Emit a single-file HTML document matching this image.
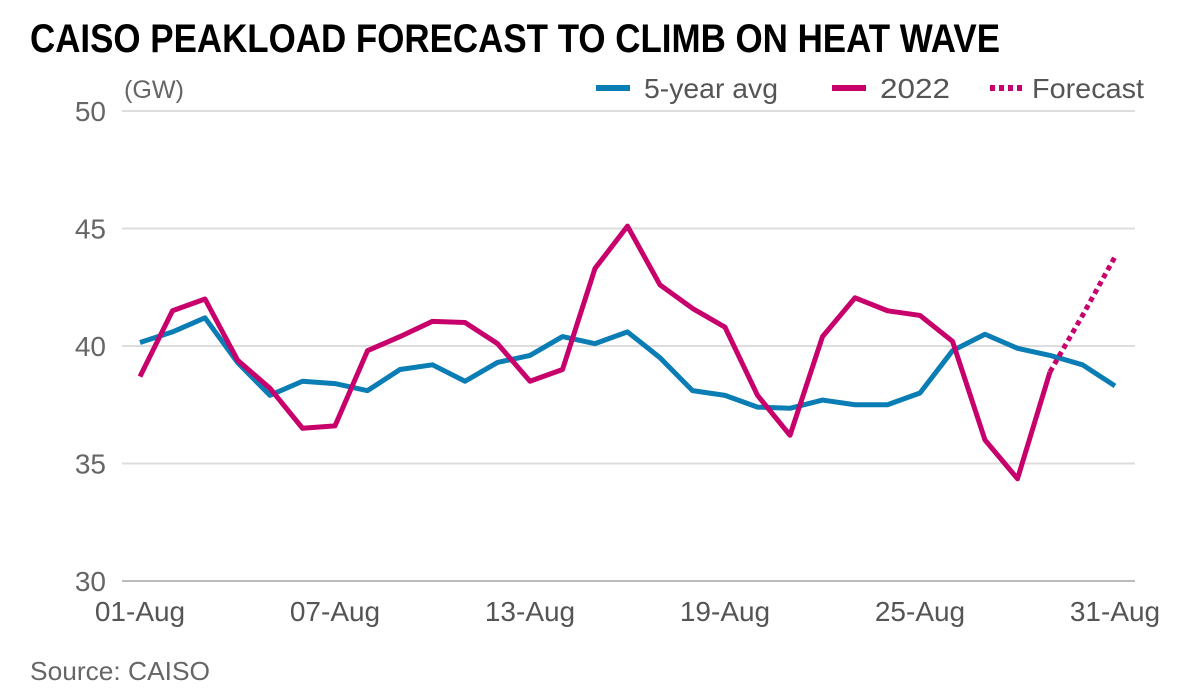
<!DOCTYPE html>
<html><head><meta charset="utf-8"><style>
html,body{margin:0;padding:0;background:#fff;}
svg{display:block;font-family:"Liberation Sans",sans-serif;}
</style></head><body>
<svg id="chart" width="1200" height="699" viewBox="0 0 1200 699">
<text x="30" y="52" font-size="40" font-weight="bold" fill="#000" textLength="970" lengthAdjust="spacingAndGlyphs">CAISO PEAKLOAD FORECAST TO CLIMB ON HEAT WAVE</text>
<text x="124" y="98" font-size="25" fill="#666" textLength="60" lengthAdjust="spacingAndGlyphs">(GW)</text>
<g>
<line x1="596" y1="88" x2="630" y2="88" stroke="#0a7db5" stroke-width="6"/>
<text x="644" y="98" font-size="28" fill="#555" textLength="134" lengthAdjust="spacingAndGlyphs">5-year avg</text>
<line x1="832" y1="88" x2="866" y2="88" stroke="#c8006b" stroke-width="6"/>
<text x="880" y="98" font-size="28" fill="#555" textLength="70" lengthAdjust="spacingAndGlyphs">2022</text>
<line x1="990" y1="88" x2="1026" y2="88" stroke="#c8006b" stroke-width="6" stroke-dasharray="5,4"/>
<text x="1032" y="98" font-size="28" fill="#555" textLength="112" lengthAdjust="spacingAndGlyphs">Forecast</text>
</g>
<g id="grid"></g>
<g id="series"></g>
<text x="30" y="680" font-size="26" fill="#666" textLength="180" lengthAdjust="spacingAndGlyphs">Source: CAISO</text>
</svg>
<script>
const yTicks = [30, 35, 40, 45, 50];
const xTickDays = [1, 7, 13, 19, 25, 31];
const xTickLabels = ["01-Aug", "07-Aug", "13-Aug", "19-Aug", "25-Aug", "31-Aug"];
const avgValues = [40.15,40.6,41.2,39.3,37.9,38.5,38.4,38.1,39.0,39.2,38.5,39.3,39.6,40.4,40.1,40.6,39.5,38.1,37.9,37.4,37.35,37.7,37.5,37.5,38.0,39.8,40.5,39.9,39.6,39.2,38.3];
const actual2022 = [38.7,41.5,42.0,39.4,38.2,36.5,36.6,39.8,40.4,41.05,41.0,40.1,38.5,39.0,43.3,45.1,42.6,41.6,40.8,37.9,36.2,40.4,42.05,41.5,41.3,40.2,36.0,34.35,38.9];
const forecastDays = [29, 30, 31];
const forecastValues = [38.9, 41.3, 43.8];

const NS = "http://www.w3.org/2000/svg";
const x = d => 140 + (d - 1) * 32.5;
const y = v => 581 - (v - 30) * 23.5;
const grid = document.getElementById('grid');
const series = document.getElementById('series');
function mk(tag, attrs, parent){const e=document.createElementNS(NS,tag);for(const k in attrs)e.setAttribute(k,attrs[k]);parent.appendChild(e);return e;}
yTicks.forEach(t=>{
  const l=mk('line',{x1:122,x2:1135,y1:y(t),y2:y(t),stroke:t===30?'#bbb':'#ddd','stroke-width':2},grid);
  
  
  const tx=mk('text',{x:106,y:y(t)+10,'font-size':28,fill:'#666','text-anchor':'end'},grid);
  tx.textContent=t;
  
  
});
xTickDays.forEach((d,i)=>{
  const tx=mk('text',{x:x(d),y:621,'font-size':28,fill:'#555','text-anchor':'middle'},grid);
  tx.textContent=xTickLabels[i];
  
  
});
function line(vals, days, color, name, dash){
  const pts=vals.map((v,i)=>x(days?days[i]:i+1)+','+y(v)).join(' ');
  const p=mk('polyline',{points:pts,fill:'none',stroke:color,'stroke-width':5,'stroke-linejoin':'round'},series);
  if(dash)p.setAttribute('stroke-dasharray',dash);
  
  
}
line(avgValues,null,'#0a7db5','line-5yr-avg');
line(forecastValues,forecastDays,'#c8006b','line-forecast','5,4');
line(actual2022,null,'#c8006b','line-2022');
</script>
</body></html>
